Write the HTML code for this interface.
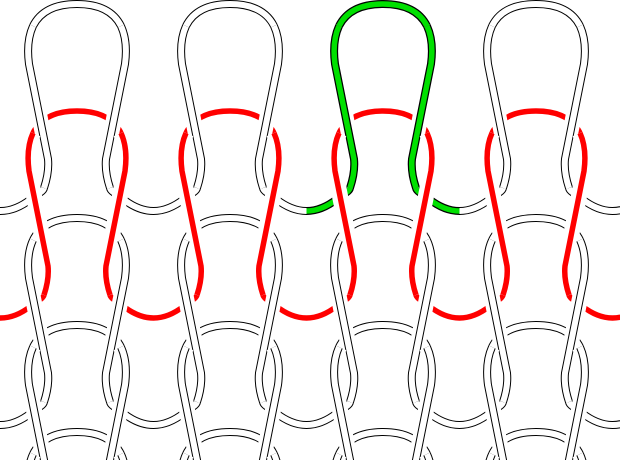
<!DOCTYPE html>
<html><head><meta charset="utf-8"><style>html,body{margin:0;padding:0;background:#fff;width:620px;height:460px;overflow:hidden}svg{display:block;overflow:hidden}</style></head>
<body>
<svg id="knit" width="620" height="460" viewBox="0 0 620 460" xmlns="http://www.w3.org/2000/svg">
<defs><clipPath id="frame"><rect x="0" y="0" width="620" height="460"/></clipPath></defs>
<rect width="620" height="460" fill="#fff"/>
<g id="content" clip-path="url(#frame)"></g>
</svg>
<script>
const columns = [-1, 0, 1, 2, 3, 4];
const rows = [0, 1, 2, 3, 4];
const rowColors = ["black", "red", "black", "black", "black"];
const greenStitch = [0, 2];

const colX = c => 77 + 153 * c;
const rowY = r => 4 + 107 * r;
const svg = document.getElementById('content');
const NS = 'http://www.w3.org/2000/svg';

function seg(part, s) {
  const p = (x, y) => (s * x) + ',' + y;
  if (part === 'foot') return 'M' + p(76.5,207) + ' C' + p(65,207) + ' ' + p(55,202) + ' ' + p(46,195) + ' C' + p(40,190) + ' ' + p(34,188) + ' ' + p(33,184);
  if (part === 'leg') return 'M' + p(33,184) + ' C' + p(30,175) + ' ' + p(28,165) + ' ' + p(29,155) + ' L' + p(48,60) + ' C' + p(50,45) + ' ' + p(49,33) + ' ' + p(44,22);
  return 'M' + p(44,22) + ' C' + p(36,6) + ' ' + p(20,0) + ' 0,0';
}

function drawPart(part, r, c) {
  const g = document.createElementNS(NS, 'g');
  
  
  g.setAttribute('transform', 'translate(' + colX(c) + ',' + rowY(r) + ')');
  const isGreen = (r === greenStitch[0] && c === greenStitch[1]);
  const color = isGreen ? 'green' : rowColors[r];
  const d = seg(part, -1) + ' ' + seg(part, 1);
  const layers = [];
  layers.push(['#fff', 16]);
  if (color === 'red') layers.push(['#ff0000', 5.5]);
  else if (color === 'green') { layers.push(['#000', 8]); layers.push(['#00e000', 5.5]); }
  else { layers.push(['#000', 8]); layers.push(['#fff', 6]); }
  layers.forEach(([col, w]) => {
    const path = document.createElementNS(NS, 'path');
    path.setAttribute('d', d);
    path.setAttribute('fill', 'none');
    path.setAttribute('stroke', col);
    path.setAttribute('stroke-width', w);
    
    
    g.appendChild(path);
  });
  svg.appendChild(g);
}

['foot', 'head', 'leg'].forEach(part => {
  rows.forEach(r => columns.forEach(c => drawPart(part, r, c)));
});
</script>
</body></html>
